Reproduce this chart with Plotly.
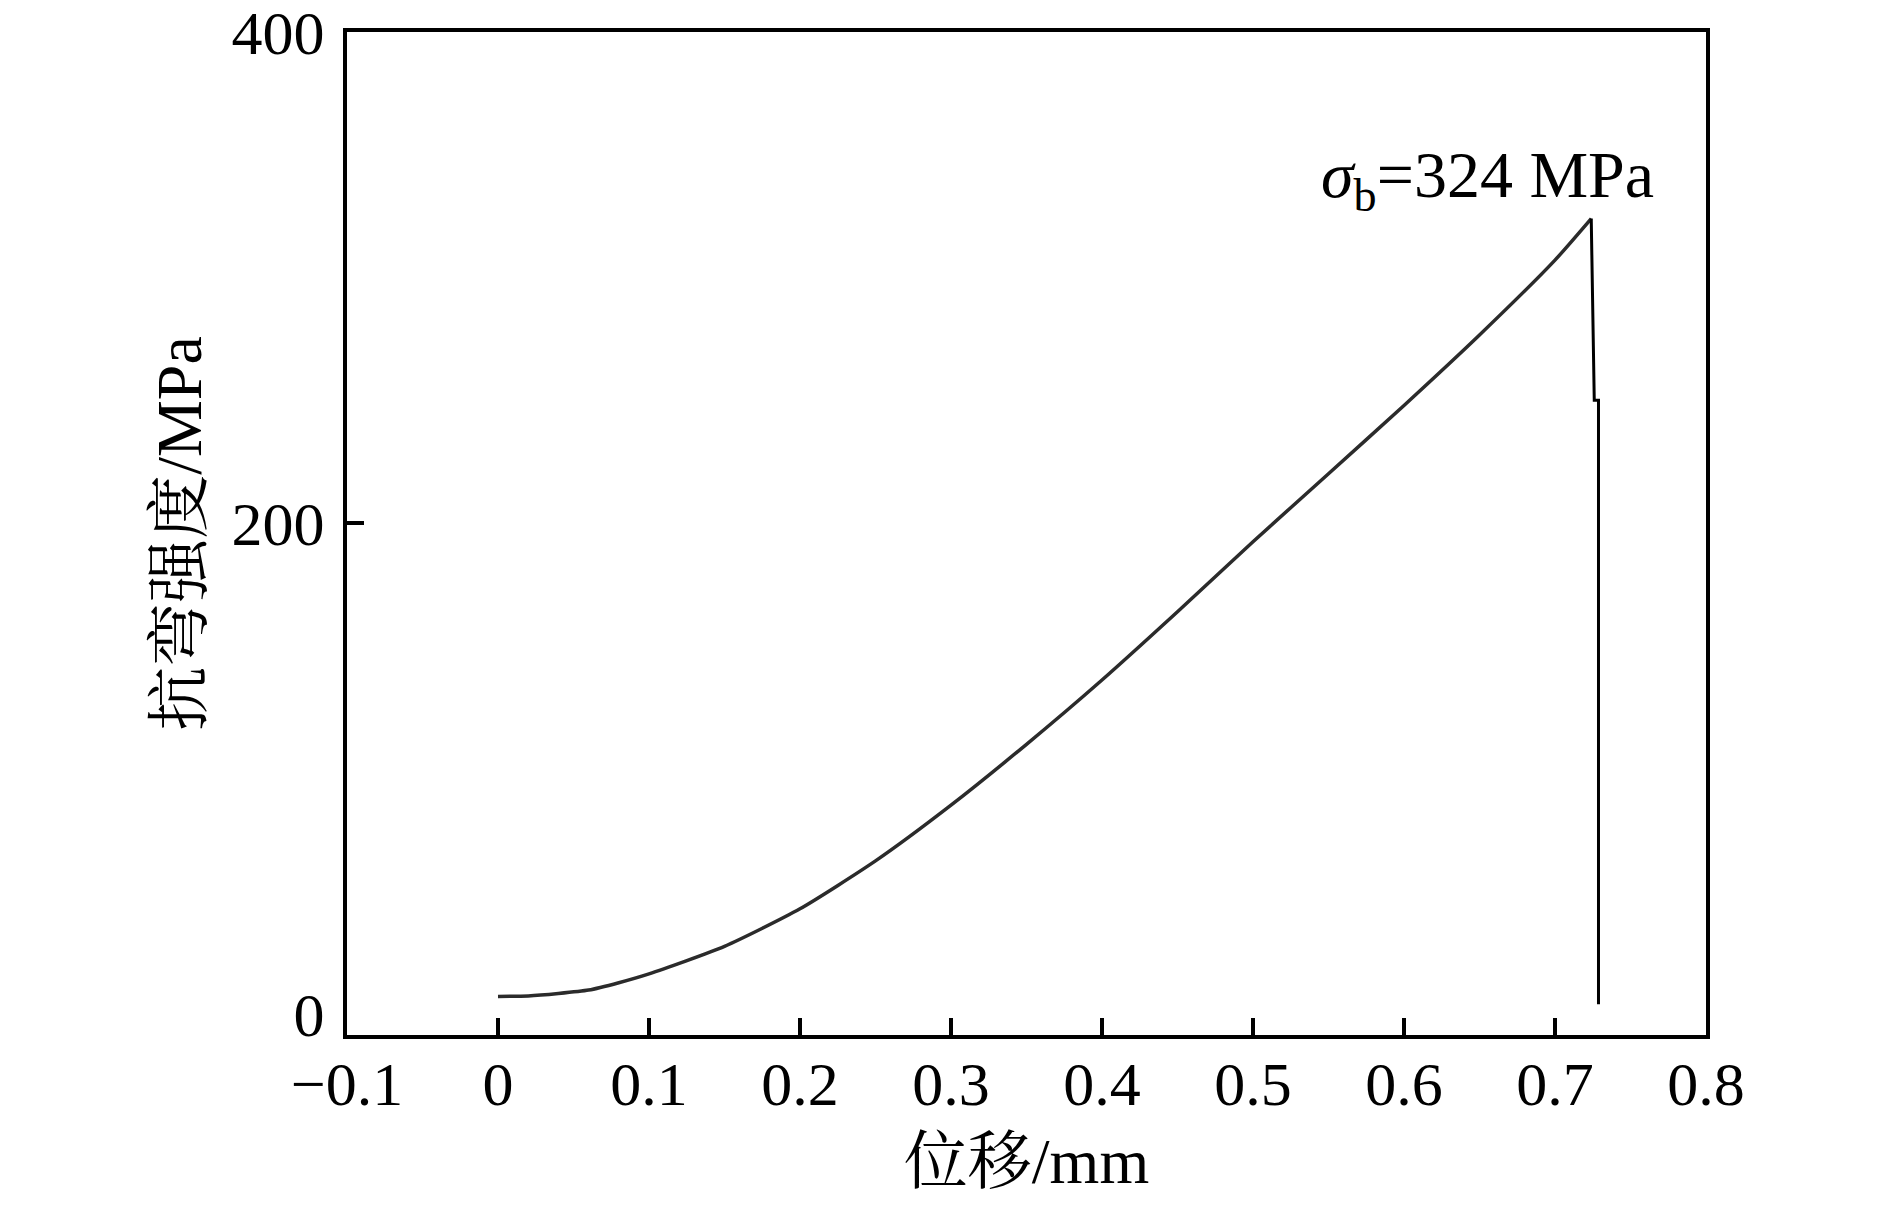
import plotly.graph_objects as go

# loading curve
disp_mm = [0, 0.02, 0.04, 0.06, 0.08, 0.1, 0.15, 0.2, 0.25, 0.3, 0.35,
           0.4, 0.45, 0.5, 0.55, 0.6, 0.65, 0.7, 0.724]
strength_mpa = [7.2, 7.4, 8.4, 9.8, 12.8, 16.4, 27.6, 42.9, 62.4, 85.1, 109.9,
                136.1, 163.9, 192.4, 220.1, 247.9, 276.6, 307.1, 324]

# fracture drop after the peak
drop_mm = [0.724, 0.726, 0.7288, 0.7288]
drop_mpa = [324, 250, 250, 4]

x_ticks = [-0.1, 0, 0.1, 0.2, 0.3, 0.4, 0.5, 0.6, 0.7, 0.8]
y_ticks = [0, 200, 400]
y_tick_marks = [200]

peak_label = "<i>σ</i><sub>b</sub>=324 MPa"

FONT = "Liberation Serif, Times New Roman, Noto Serif CJK SC, Noto Sans CJK SC, serif"
Y_RANGE = [-8.5, 400]

fig = go.Figure()
fig.add_trace(go.Scatter(
    x=disp_mm, y=strength_mpa, mode="lines",
    line=dict(color="#2b2b2b", width=3.5, shape="spline", smoothing=0.6),
    showlegend=False,
))
fig.add_trace(go.Scatter(
    x=drop_mm, y=drop_mpa, mode="lines",
    line=dict(color="black", width=3),
    showlegend=False,
))

fig.add_annotation(
    x=0.655, y=340, text=peak_label, showarrow=False,
    xanchor="center", yanchor="middle",
    font=dict(family=FONT, size=66, color="black"),
)

tick_font = dict(family=FONT, size=62, color="black")

fig.update_layout(
    width=1874, height=1192,
    margin=dict(l=339, r=176, t=24, b=165, autoexpand=False),
    paper_bgcolor="white", plot_bgcolor="white",
    font=dict(family=FONT, color="black"),
    xaxis=dict(
        range=[-0.1, 0.8], tickvals=x_ticks, automargin=False,
        showline=True, linewidth=4, linecolor="black", mirror=True,
        ticks="inside", ticklen=17, tickwidth=4, tickcolor="black",
        showgrid=False, zeroline=False,
        tickfont=tick_font, ticklabeloverflow="allow", ticklabelstandoff=-8,
        title=dict(text="位移/mm", font=dict(family=FONT, size=64), standoff=22),
    ),
    yaxis=dict(
        range=Y_RANGE, tickvals=y_ticks, automargin=False,
        showline=True, linewidth=4, linecolor="black", mirror=True,
        ticks="", showgrid=False, zeroline=False,
        tickfont=tick_font, ticklabeloverflow="allow", ticklabelstandoff=6,
        title=dict(text="抗弯强度/MPa", font=dict(family=FONT, size=64), standoff=10),
    ),
    # carries only the inward tick mark at 200
    yaxis2=dict(
        range=Y_RANGE, tickvals=y_tick_marks, overlaying="y", side="left",
        automargin=False,
        showline=False, showgrid=False, zeroline=False, showticklabels=False,
        ticks="inside", ticklen=17, tickwidth=4, tickcolor="black",
    ),
)

# invisible trace so the tick axis is drawn
fig.add_trace(go.Scatter(x=[None], y=[None], yaxis="y2", showlegend=False, hoverinfo="skip"))

fig.write_html("out.html")
